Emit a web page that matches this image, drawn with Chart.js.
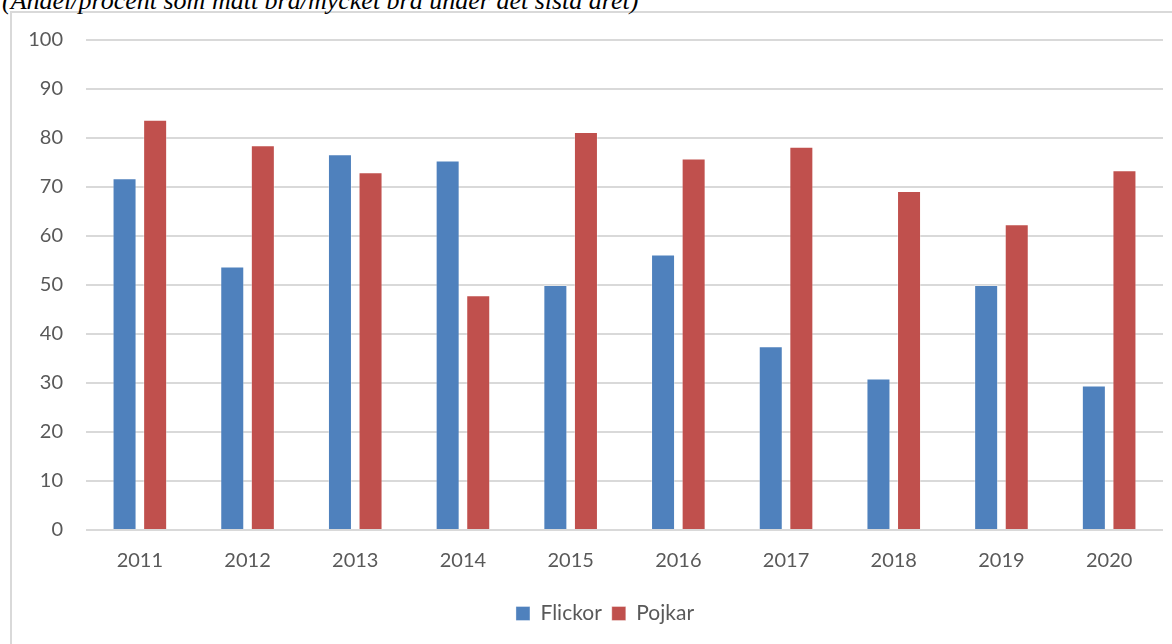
<!DOCTYPE html>
<html>
<head>
<meta charset="utf-8">
<script src="https://cdn.jsdelivr.net/npm/chart.js@4"></script>
<style>
  html, body { margin: 0; padding: 0; background: #ffffff; width: 1172px; height: 644px; overflow: hidden; position: relative; }
  #frame { position: absolute; left: 10px; top: 11px; width: 1200px; height: 700px; border: 2px solid #d9d9d9; box-sizing: border-box; }
  #note { position: absolute; left: 2px; top: -12px; font-family: "Liberation Serif", "DejaVu Serif", serif; font-style: italic; font-size: 26px; line-height: 26px; color: #000; white-space: nowrap; }
  #wrap { position: absolute; left: 0; top: 0; width: 1210px; height: 644px; }
</style>
</head>
<body>
<div id="frame"></div>
<div id="note">(Andel/procent som mått bra/mycket bra under det sista året)</div>
<div id="wrap"><canvas id="c"></canvas></div>
<script>
const categories = ["2011", "2012", "2013", "2014", "2015", "2016", "2017", "2018", "2019", "2020"];
const flickor = [71.8, 53.8, 76.7, 75.4, 50.0, 56.2, 37.5, 30.9, 50.0, 29.5];
const pojkar = [83.7, 78.5, 73.0, 47.9, 81.2, 75.8, 78.2, 69.2, 62.4, 73.4];
const seriesNames = ["Flickor", "Pojkar"];
const yTicks = { min: 0, max: 100, step: 10 };

const textColor = "#595959";
const fontFamily = "Lato, 'Open Sans', sans-serif";

new Chart(document.getElementById("c"), {
  type: "bar",
  data: {
    labels: categories,
    datasets: [
      { label: seriesNames[0], data: flickor, yAxisID: "y", backgroundColor: "#4f81bd", borderColor: "rgba(255,255,255,0.35)", borderWidth: 1, categoryPercentage: 0.568, barPercentage: 0.785 },
      { label: seriesNames[1], data: pojkar, yAxisID: "y", backgroundColor: "#c0504d", borderColor: "rgba(255,255,255,0.35)", borderWidth: 1, categoryPercentage: 0.568, barPercentage: 0.785 }
    ]
  },
  options: {
    responsive: true,
    maintainAspectRatio: false,
    animation: false,
    layout: { padding: { top: 40, bottom: 10, left: 0, right: 0 } },
    plugins: {
      legend: {
        position: "bottom",
        labels: { boxWidth: 14, boxHeight: 14, padding: 10, color: textColor, font: { family: fontFamily, size: 21 } }
      },
      tooltip: { enabled: false },
      title: { display: false }
    },
    scales: {
      x: {
        grid: { display: false, drawTicks: false },
        border: { display: false },
        ticks: { color: textColor, padding: 19, font: { family: fontFamily, size: 20 } },
        afterFit: (s) => { s.height = 63; }
      },
      y: {
        position: "left",
        min: yTicks.min,
        max: yTicks.max,
        grid: { color: "#d9d9d9", lineWidth: 2, drawTicks: false },
        border: { display: false },
        ticks: { stepSize: yTicks.step, color: textColor, padding: 23, font: { family: fontFamily, size: 20 } },
        afterFit: (s) => { s.width = 86; }
      },
      ySpacer: {
        axis: "y",
        position: "right",
        min: yTicks.min,
        max: yTicks.max,
        grid: { display: false, drawTicks: false },
        border: { display: false },
        ticks: { display: false },
        afterFit: (s) => { s.width = 47; }
      }
    }
  }
});
</script>
</body>
</html>
